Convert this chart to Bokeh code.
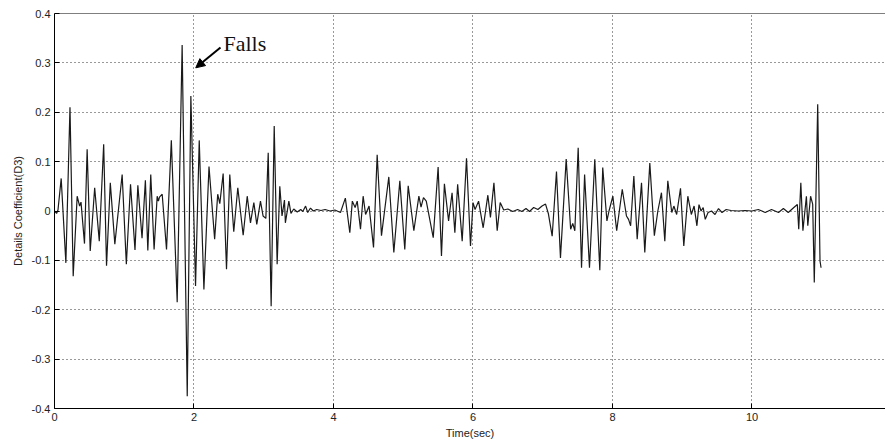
from bokeh.plotting import figure
from bokeh.models import Range1d, FixedTicker, Label, Arrow, NormalHead, Span
from bokeh.embed import file_html
from bokeh.resources import INLINE

# ---- data (time in s, coefficient) ----
time_s = [
    0.00, 0.03, 0.05, 0.096, 0.163, 0.222, 0.268, 0.325, 0.36, 0.38, 0.43, 0.468, 0.512, 0.576,
    0.642, 0.705, 0.746, 0.800, 0.865, 0.970, 1.030, 1.090, 1.154, 1.195, 1.255, 1.303, 1.338,
    1.380, 1.428, 1.472, 1.49, 1.505, 1.544, 1.606, 1.675, 1.759, 1.830, 1.903, 1.955, 2.022,
    2.075, 2.142, 2.215, 2.296, 2.340, 2.37, 2.418, 2.466, 2.513, 2.570, 2.628, 2.705, 2.763,
    2.81, 2.858, 2.90, 2.953, 2.99, 3.03, 3.064, 3.106, 3.150, 3.192, 3.230, 3.262, 3.297, 3.31,
    3.36, 3.39, 3.43, 3.48, 3.53, 3.56, 3.60, 3.63, 3.67, 3.71, 3.76, 3.82, 3.88, 3.95, 4.02,
    4.10, 4.17, 4.234, 4.27, 4.31, 4.34, 4.387, 4.425, 4.46, 4.51, 4.574, 4.626, 4.688, 4.793,
    4.865, 4.951, 5.022, 5.071, 5.152, 5.224, 5.255, 5.29, 5.33, 5.43, 5.500, 5.548, 5.590,
    5.65, 5.700, 5.74, 5.780, 5.845, 5.907, 5.964, 6.00, 6.03, 6.08, 6.146, 6.213, 6.25, 6.300,
    6.347, 6.39, 6.44, 6.50, 6.57, 6.64, 6.70, 6.76, 6.81, 6.87, 6.93, 6.99, 7.04, 7.08, 7.135,
    7.197, 7.254, 7.336, 7.40, 7.43, 7.46, 7.508, 7.556, 7.600, 7.670, 7.746, 7.818, 7.860,
    7.92, 7.95, 8.005, 8.06, 8.140, 8.20, 8.23, 8.26, 8.306, 8.354, 8.416, 8.463, 8.535, 8.60,
    8.65, 8.702, 8.75, 8.793, 8.85, 8.88, 8.92, 8.975, 9.022, 9.08, 9.13, 9.17, 9.21, 9.24,
    9.27, 9.30, 9.33, 9.37, 9.42, 9.47, 9.52, 9.57, 9.63, 9.70, 9.80, 9.90, 10.00, 10.09,
    10.19, 10.28, 10.38, 10.45, 10.52, 10.60, 10.65, 10.67, 10.70, 10.73, 10.78, 10.80, 10.84,
    10.87, 10.893, 10.942, 10.975, 10.99,
]
coef_d3 = [
    0.0, -0.005, 0.002, 0.066, -0.105, 0.210, -0.132, 0.030, 0.010, 0.018, -0.066, 0.125, -0.081, 0.047,
    -0.061, 0.135, -0.111, 0.057, -0.067, 0.074, -0.108, 0.054, -0.079, 0.052, -0.055, 0.062, -0.080,
    0.074, -0.078, 0.030, 0.020, 0.028, 0.034, -0.078, 0.143, -0.185, 0.336, -0.375, 0.233, -0.152,
    0.143, -0.159, 0.090, -0.057, 0.034, 0.015, 0.076, -0.118, 0.074, -0.042, 0.047, -0.049, 0.030,
    -0.024, 0.017, -0.027, 0.020, -0.010, -0.015, 0.118, -0.193, 0.172, -0.108, 0.050, -0.010, 0.022, -0.024,
    0.020, -0.005, 0.004, -0.002, 0.003, -0.001, 0.010, -0.003, 0.006, 0.000, 0.003, 0.001, 0.003, 0.000, 0.002,
    -0.003, 0.026, -0.044, 0.020, 0.007, 0.020, -0.037, 0.030, -0.007, 0.010, -0.074, 0.114, -0.050, 0.069,
    -0.084, 0.061, -0.078, 0.051, -0.040, 0.030, 0.008, 0.027, 0.020, -0.054, 0.089, -0.091, 0.055,
    -0.020, 0.037, -0.044, 0.054, -0.061, 0.107, -0.071, 0.017, 0.003, 0.020, -0.034, 0.032, -0.013, 0.057,
    -0.040, 0.017, 0.002, 0.004, -0.001, 0.003, -0.001, 0.005, -0.001, 0.007, 0.003, 0.010, 0.014, -0.005, -0.051,
    0.080, -0.095, 0.105, -0.037, -0.025, -0.040, 0.128, -0.115, 0.074, -0.115, 0.105, -0.120, 0.088,
    -0.020, 0.000, 0.030, -0.040, 0.044, -0.010, -0.017, -0.030, 0.071, -0.057, 0.057, -0.084, 0.097, -0.050,
    0.000, 0.037, -0.061, 0.061, -0.003, 0.010, -0.007, 0.046, -0.071, 0.030, -0.007, 0.010, -0.030, 0.013,
    0.000, 0.007, -0.017, -0.003, 0.000, -0.007, 0.005, -0.003, 0.003, 0.001, 0.000, 0.001, 0.000, 0.003,
    -0.003, 0.003, -0.003, 0.005, -0.003, 0.007, 0.013, -0.037, 0.057, -0.040, 0.030, -0.030, 0.030,
    0.014, -0.145, 0.216, -0.101, -0.115,
]

x_ticks = [0, 2, 4, 6, 8, 10]
x_tick_labels = ["0", "2", "4", "6", "8", "10"]
y_ticks = [-0.4, -0.3, -0.2, -0.1, 0.0, 0.1, 0.2, 0.3, 0.4]
y_tick_labels = ["-0.4", "-0.3", "-0.2", "-0.1", "0", "0.1", "0.2", "0.3", "0.4"]

p = figure(width=885, height=443, output_backend="svg", toolbar_location=None,
           x_range=Range1d(0, 11.914), y_range=Range1d(-0.4, 0.4),
           min_border_left=54, min_border_right=0, min_border_top=13, min_border_bottom=35)
p.background_fill_color = "white"
p.border_fill_color = "white"
p.outline_line_color = None

p.line(time_s, coef_d3, line_color="#1a1a1a", line_width=1.2)

font = "Liberation Sans"
p.xaxis.ticker = FixedTicker(ticks=x_ticks)
p.yaxis.ticker = FixedTicker(ticks=y_ticks)
p.xaxis.major_label_overrides = dict(zip(x_ticks, x_tick_labels))
p.yaxis.major_label_overrides = dict(zip(y_ticks, y_tick_labels))
for ax in (p.xaxis[0], p.yaxis[0]):
    ax.major_tick_in = 5
    ax.major_tick_out = 0
    ax.minor_tick_line_color = None
    ax.axis_line_color = "#000000"
    ax.major_tick_line_color = "#000000"
    ax.major_label_text_font = font
    ax.major_label_text_font_size = "11px"
    ax.major_label_text_color = "#222222"
    ax.axis_label_text_font = font
    ax.axis_label_text_font_size = "11px"
    ax.axis_label_text_font_style = "normal"
    ax.axis_label_text_color = "#222222"

p.xaxis.axis_label = "Time(sec)"
p.xaxis.major_label_standoff = 4
p.xaxis.axis_label_standoff = 3
p.yaxis.axis_label = "Details Coefficient(D3)"
p.yaxis.major_label_standoff = 4
p.yaxis.axis_label_standoff = 5

p.grid.grid_line_color = "#333333"
p.grid.grid_line_dash = "1 3"
p.grid.grid_line_width = 1

p.add_layout(Span(location=0.4, dimension="width", line_color="#000000", line_width=1))

p.add_layout(Label(x=2.423, y=0.339, text="Falls", text_font="Liberation Serif",
                   text_font_size="22px", text_baseline="middle", text_align="left",
                   text_color="#111111"))
p.add_layout(Arrow(x_start=2.38, y_start=0.331, x_end=2.025, y_end=0.290,
                   line_color="#000000", line_width=2,
                   end=NormalHead(size=9, fill_color="#000000", line_color="#000000")))

open("out.html", "w").write(file_html(p, INLINE))
